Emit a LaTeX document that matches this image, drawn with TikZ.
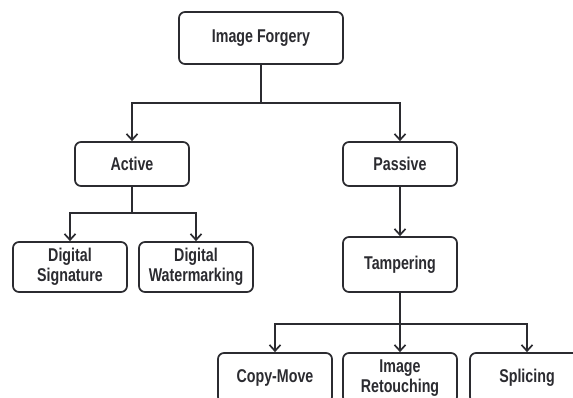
\documentclass[tikz,border=0pt]{standalone}
\usepackage{fontspec}
\setmainfont[FakeStretch=0.77]{Liberation Sans}
\usetikzlibrary{arrows.meta}
\definecolor{ink}{HTML}{2B2B30}
\begin{document}
\begin{tikzpicture}[x=1pt,y=-1pt,
  box/.style={draw=ink,line width=1.7pt,rounded corners=6pt,fill=white,
    minimum width=114pt,minimum height=50pt,align=center,inner sep=2pt,
    text=ink,font=\bfseries\fontsize{18.5}{19.5}\selectfont},
  conn/.style={draw=ink,line width=1.7pt},
  arr/.style={conn,-{Straight Barb[length=6pt,width=11pt,line width=1.7pt]}}]
\useasboundingbox (0,0) rectangle (573,398);
\clip (0,0) rectangle (573,398);
\node[box,minimum width=164pt,minimum height=52pt] (root) at (261,38) {Image Forgery};
\node[box,minimum height=44pt] (act) at (132,164) {Active};
\node[box,minimum height=44pt] (pas) at (400,164) {Passive};
\node[box] (ds) at (70,267) {Digital\\Signature};
\node[box] (dw) at (196,267) {Digital\\Watermarking};
\node[box,minimum height=55pt] (tam) at (400,264.5) {Tampering};
\node[box] (cm) at (275,378) {Copy-Move};
\node[box] (ir) at (400,378) {Image\\Retouching};
\node[box] (sp) at (527,378) {Splicing};
\coordinate (j1) at (261,103);
\coordinate (j2) at (132,213);
\coordinate (j3) at (400,324);
\draw[conn] (root.south) -- (j1);
\draw[arr] (j1) -| (act.north);
\draw[arr] (j1) -| (pas.north);
\draw[conn] (act.south) -- (j2);
\draw[arr] (j2) -| (ds.north);
\draw[arr] (j2) -| (dw.north);
\draw[arr] (pas.south) -- (tam.north);
\draw[conn] (tam.south) -- (j3);
\draw[arr] (j3) -| (cm.north);
\draw[arr] (j3) -- (ir.north);
\draw[arr] (j3) -| (sp.north);
\end{tikzpicture}
\end{document}
